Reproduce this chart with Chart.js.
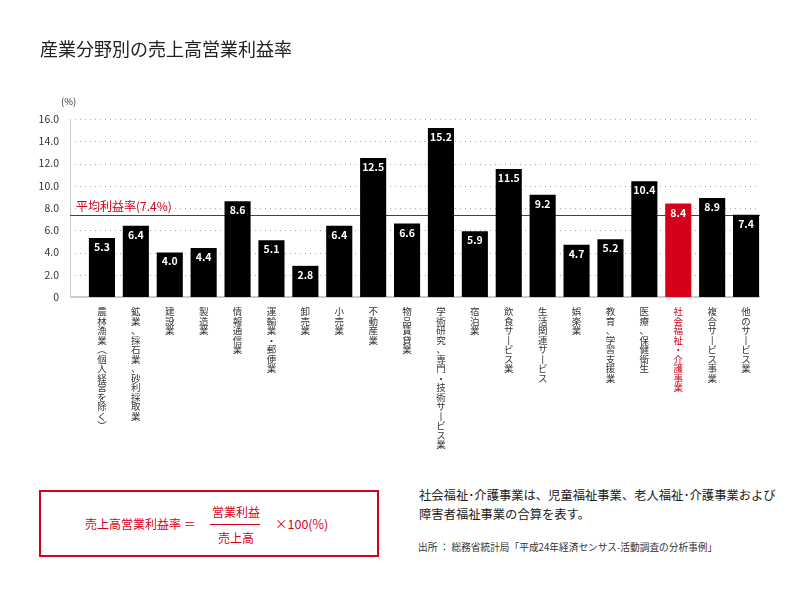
<!DOCTYPE html>
<html>
<head>
<meta charset="utf-8">
<script src="https://cdn.jsdelivr.net/npm/chart.js@4"></script>
<style>
  body { margin: 0; background: #fff; font-family: "Noto Sans CJK JP", sans-serif; color: #333; }
  .page { position: relative; width: 798px; height: 598px; overflow: hidden; }
  .title { position: absolute; left: 40px; top: 35px; font-size: 18px; color: #222; }
  .unit { position: absolute; left: 61px; top: 94px; font-size: 9.5px; color: #333; }
  .chart-box { position: absolute; left: 0; top: 0; width: 798px; height: 460px; }
  .formula { position: absolute; left: 39px; top: 490px; width: 336px; height: 63px; border: 2px solid #d7001b; color: #d7001b; font-size: 12px; }
  .formula span { position: absolute; white-space: nowrap; line-height: 14px; }
  .formula .bar { position: absolute; left: 169px; top: 32px; width: 50px; height: 1px; background: #d7001b; }
  .note { position: absolute; left: 419px; top: 486px; font-size: 12.3px; line-height: 19px; color: #222; }
  .source { position: absolute; left: 418px; top: 540px; font-size: 9.7px; color: #333; }
</style>
</head>
<body>
<div class="page">
  <div class="chart-box"><canvas class="profit-chart"></canvas></div>
  <div class="title">産業分野別の売上高営業利益率</div>
  <div class="unit">(%)</div>
  <div class="formula">
    <span style="left:44px; top:25px;">売上高営業利益率 ＝</span>
    <span style="left:171px; top:13px;">営業利益</span>
    <div class="bar"></div>
    <span style="left:177px; top:39px;">売上高</span>
    <span style="left:234px; top:25px; font-size:12.5px;">×100(%)</span>
  </div>
  <div class="note">社会福祉･介護事業は、児童福祉事業、老人福祉･介護事業および<br>障害者福祉事業の合算を表す。</div>
  <div class="source">出所 ： 総務省統計局「平成24年経済センサス-活動調査の分析事例」</div>
</div>
<script>
const categories = [
    '農林漁業(個人経営を除く)', '鉱業、採石業、砂利採取業', '建設業', '製造業', '情報通信業',
    '運輸業・郵便業', '卸売業', '小売業', '不動産業', '物品賃貸業',
    '学術研究、専門・技術サービス業', '宿泊業', '飲食サービス業', '生活関連サービス', '娯楽業',
    '教育、学習支援業', '医療、保健衛生', '社会福祉・介護事業', '複合サービス事業', '他のサービス業'
]
const profitRates = [5.3, 6.4, 4.0, 4.4, 8.6, 5.1, 2.8, 6.4, 12.5, 6.6, 15.2, 5.9, 11.5, 9.2, 4.7, 5.2, 10.4, 8.4, 8.9, 7.4]
const averageRate = 7.4
const yTicks = [0, 2, 4, 6, 8, 10, 12, 14, 16]
const highlightIndex = 17

const RED = '#d7001b'
const FONT = '"Noto Sans CJK JP", sans-serif'

// vertical label: one character per line, swap glyphs that turn in vertical writing
const verticalForms = { '(': '︵', ')': '︶', 'ー': '丨' }
function toVertical(label) {
    return Array.from(label).map(ch => verticalForms[ch] || ch)
}

const chartDecor = {
    id: 'chartDecor',
    beforeDatasetsDraw(chart) {
        const {ctx, chartArea, scales: {y}} = chart
        const left = chartArea.left - 15
        ctx.save()
        // dotted grid
        ctx.strokeStyle = '#aaa'
        ctx.lineWidth = 1
        ctx.setLineDash([1, 4])
        yTicks.slice(1).forEach(v => {
            const py = Math.round(y.getPixelForValue(v)) + 0.5
            ctx.beginPath()
            ctx.moveTo(left, py)
            ctx.lineTo(chartArea.right - 6, py)
            ctx.stroke()
        })
        ctx.setLineDash([])
        // axis lines
        ctx.strokeStyle = '#ccc'
        ctx.beginPath()
        ctx.moveTo(left + 0.5, y.getPixelForValue(16))
        ctx.lineTo(left + 0.5, y.getPixelForValue(0))
        ctx.stroke()
        ctx.lineWidth = 2
        ctx.beginPath()
        ctx.moveTo(left, y.getPixelForValue(0))
        ctx.lineTo(chartArea.right - 3, y.getPixelForValue(0))
        ctx.stroke()
        // average line
        const ay = Math.round(y.getPixelForValue(averageRate)) + 0.5
        ctx.strokeStyle = RED
        ctx.lineWidth = 1.2
        ctx.beginPath()
        ctx.moveTo(left, ay)
        ctx.lineTo(chartArea.right - 3, ay)
        ctx.stroke()
        ctx.fillStyle = RED
        ctx.font = '12px ' + FONT
        ctx.textBaseline = 'alphabetic'
        ctx.fillText(`平均利益率(${averageRate}%)`, left + 6, ay - 5)
        ctx.restore()
    },
    afterDatasetsDraw(chart) {
        const {ctx} = chart
        const meta = chart.getDatasetMeta(0)
        ctx.save()
        ctx.fillStyle = '#fff'
        ctx.font = 'bold 10.5px ' + FONT
        ctx.textAlign = 'center'
        ctx.textBaseline = 'middle'
        meta.data.forEach((bar, i) => {
            ctx.fillText(profitRates[i].toFixed(1), bar.x, bar.y + 9)
        })
        ctx.restore()
    }
}

function createChart() {
    const ctx = document.querySelector('.profit-chart').getContext('2d')
    return new Chart(ctx, {
        type: 'bar',
        data: {
            labels: categories,
            datasets: [{
                data: profitRates,
                backgroundColor: profitRates.map((v, i) => i === highlightIndex ? RED : '#000'),
                barPercentage: 1,
                categoryPercentage: 0.77,
            }]
        },
        options: {
            responsive: true,
            maintainAspectRatio: false,
            animation: false,
            layout: { padding: { top: 119, right: 35, left: 0, bottom: 0 } },
            plugins: { legend: { display: false }, tooltip: { enabled: false } },
            scales: {
                x: {
                    grid: { display: false, drawTicks: false },
                    border: { display: false },
                    afterFit: scale => { scale.height = 163 },
                    ticks: {
                        autoSkip: false,
                        maxRotation: 0,
                        minRotation: 0,
                        padding: 10,
                        font: { family: FONT, size: 9.5, lineHeight: 1.0 },
                        color: c => c.index === highlightIndex ? RED : '#333',
                        callback: (value, i) => toVertical(categories[i]),
                    }
                },
                y: {
                    min: 0,
                    max: 16,
                    grid: { display: false, drawTicks: false },
                    border: { display: false },
                    afterFit: scale => { scale.width = 85 },
                    afterBuildTicks: scale => { scale.ticks = yTicks.map(v => ({ value: v })) },
                    ticks: {
                        padding: 26,
                        font: { family: FONT, size: 10.5 },
                        color: '#333',
                        callback: v => v === 0 ? '0' : v.toFixed(1),
                    }
                }
            }
        },
        plugins: [chartDecor]
    })
}

document.addEventListener('DOMContentLoaded', () => {
    createChart()
})
</script>
</body>
</html>
